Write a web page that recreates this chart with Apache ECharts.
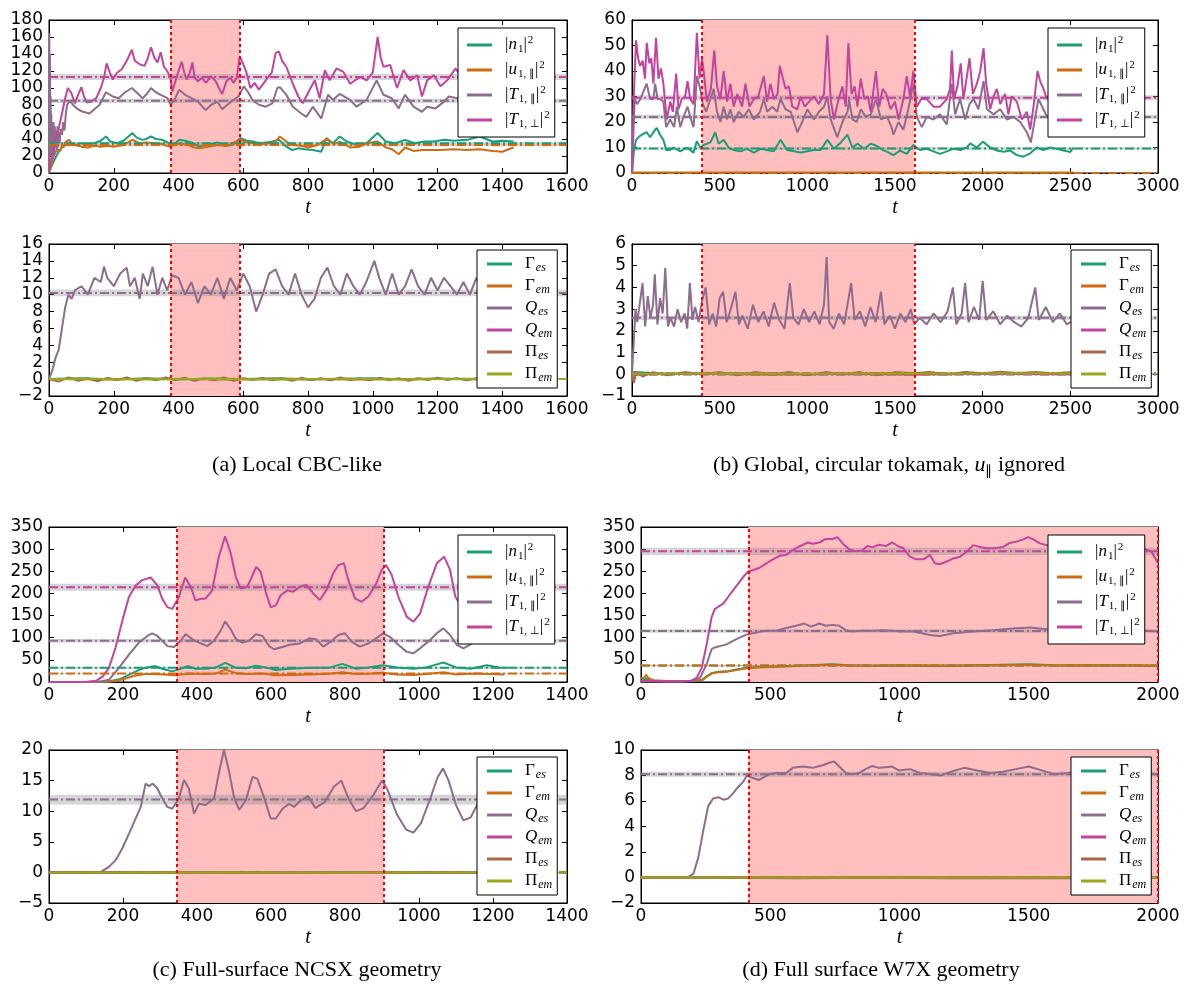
<!DOCTYPE html>
<html><head><meta charset="utf-8">
<script src="https://cdn.jsdelivr.net/npm/echarts@6/dist/echarts.min.js"></script>
<style>html,body{margin:0;padding:0;background:#fff}#c{width:1189px;height:989px}</style>
</head><body><div id="c"></div><script>
// ---------------- DATA ----------------
// averaging windows [start, end]
const winA = [375, 590];
const winB = [400, 1610];
const winC = [345, 905];
const winD = [415, 2000];

// ---- (a) Local CBC-like, top: |n1|^2, |u1,par|^2, |T1,par|^2, |T1,perp|^2
const a_n1 = [[0,0],[5,5],[10,10],[20,18],[30,25],[40,30],[50,33],[60,34],[80,33],[100,35],[120,33],[140,35],[160,38],[176,43],[190,37],[210,35],[230,38],[258,47],[270,42],[289,39],[300,40],[315,43],[330,40],[350,39],[371,35],[385,33],[402,39],[420,38],[440,36],[464,31],[480,33],[500,34],[520,36],[540,32],[566,33],[592,41],[610,38],[630,37],[650,35],[670,36],[690,37],[710,39],[730,32],[751,27],[770,29],[790,28],[815,27],[841,25],[857,41],[877,35],[898,43],[920,37],[950,33],[981,35],[1015,47],[1040,37],[1070,35],[1100,39],[1130,35],[1160,37],[1190,37],[1220,39],[1250,38],[1292,39],[1330,43],[1370,37],[1400,38],[1435,37]];
const a_u = [[0,0],[5,8],[10,14],[15,20],[20,24],[25,28],[30,30],[35,26],[40,33],[45,30],[50,36],[55,34],[62,39],[70,35],[80,33],[100,31],[120,30],[140,32],[160,31],[180,32],[200,31],[230,33],[258,39],[280,35],[300,36],[330,35],[350,34],[371,31],[385,33],[402,35],[430,33],[450,30],[464,29],[490,31],[520,33],[550,32],[566,35],[592,39],[610,36],[640,35],[670,34],[700,37],[713,43],[733,37],[753,33],[780,32],[800,30],[830,33],[857,40],[880,34],[898,37],[930,30],[960,31],[981,35],[1015,37],[1040,30],[1060,28],[1080,22],[1100,30],[1126,26],[1152,27],[1180,27],[1210,27],[1250,28],[1290,27],[1330,28],[1370,26],[1400,25],[1420,28],[1435,30]];
const a_Tpar = [[0,0],[1,165],[2,60],[3,140],[4,40],[5,90],[6,20],[7,70],[8,30],[9,60],[10,15],[11,55],[12,25],[14,60],[16,20],[18,55],[20,30],[22,50],[24,25],[26,55],[28,30],[30,48],[33,35],[36,52],[40,45],[44,60],[48,50],[52,70],[56,80],[64,85],[75,80],[89,75],[105,72],[125,70],[140,75],[156,80],[176,95],[197,90],[215,88],[235,95],[256,100],[270,95],[289,88],[300,92],[315,100],[330,95],[345,92],[366,88],[376,80],[390,88],[402,98],[420,92],[440,88],[460,84],[484,74],[500,80],[520,84],[535,75],[550,80],[566,85],[585,90],[602,102],[615,95],[630,85],[650,80],[670,78],[690,82],[705,100],[713,101],[733,92],[753,78],[779,70],[795,66],[815,78],[841,64],[862,92],[877,86],[898,93],[930,86],[950,78],[981,86],[1012,109],[1033,92],[1059,88],[1080,76],[1100,92],[1126,78],[1152,72],[1168,78],[1194,76],[1220,84],[1235,90],[1261,88],[1290,92],[1320,86],[1350,90],[1380,84],[1410,88],[1435,86]];
const a_Tperp = [[0,3],[5,15],[10,22],[15,30],[20,38],[30,52],[40,70],[50,88],[58,100],[68,95],[80,82],[90,92],[100,101],[108,90],[117,83],[130,84],[146,88],[160,100],[170,112],[178,129],[188,118],[197,110],[210,118],[225,122],[240,132],[256,145],[265,132],[280,128],[295,126],[305,135],[315,148],[325,136],[335,130],[345,142],[355,125],[365,120],[375,112],[381,96],[392,110],[402,122],[410,131],[418,118],[425,110],[435,118],[443,130],[450,112],[460,108],[472,112],[485,106],[500,114],[515,108],[525,100],[535,93],[548,108],[560,112],[570,106],[580,112],[589,137],[598,130],[610,118],[622,100],[635,106],[648,98],[660,104],[675,112],[688,118],[700,141],[710,143],[720,132],[733,125],[753,105],[770,90],[784,82],[805,98],[821,109],[836,88],[852,121],[867,109],[888,123],[909,119],[930,105],[961,113],[981,109],[1000,118],[1015,160],[1025,135],[1033,125],[1054,127],[1075,100],[1095,121],[1116,109],[1137,115],[1152,90],[1168,109],[1189,115],[1209,102],[1230,109],[1256,123],[1275,112],[1300,118],[1325,110],[1350,120],[1375,114],[1400,118],[1420,112],[1435,116]];
const meanA1 = [35, 33, 85, 113];
const errA1 = [1.5, 1.5, 2.5, 3.5];

// ---- (a) bottom: Gamma_es, Gamma_em, Q_es, Q_em, Pi_es, Pi_em
const a_Ges = [[0,0],[100,0.1],[200,-0.05],[300,0.1],[400,-0.05],[500,0.08],[600,0],[700,0.1],[800,-0.05],[900,0.05],[1000,0.1],[1100,-0.05],[1200,0.08],[1300,0],[1430,0.05]];
const a_Gem = [[0,0],[150,-0.05],[350,0.05],[550,-0.05],[750,0.05],[950,-0.05],[1150,0.05],[1350,-0.05],[1430,0]];
const a_Qes = [[0,0],[10,1],[20,2.5],[30,3.5],[40,6],[50,8.5],[60,10],[70,9.5],[80,10.5],[100,11],[120,10],[140,12],[160,11.5],[170,13.3],[180,12],[200,11],[220,12.5],[240,13.2],[250,11],[265,12],[280,9.5],[290,12.5],[305,11],[320,13.3],[335,10],[350,12],[365,10.5],[380,12.3],[400,12],[420,10],[440,11.5],[460,9],[480,11],[500,10],[520,12],[540,9.5],[560,12],[580,10.5],[600,12.5],[620,11],[640,8],[660,10],[680,12.5],[700,13],[720,11],[740,10],[760,12.5],[780,10],[800,8.5],[820,9.5],[840,12],[860,13.2],[880,11],[900,10],[920,12.5],[940,11],[960,10],[980,11.5],[1005,14],[1020,12],[1040,10],[1060,12.5],[1080,10],[1100,11],[1120,13],[1140,11],[1160,10],[1180,12],[1200,10.5],[1220,12],[1240,11],[1260,10],[1280,11.5],[1300,10],[1320,12],[1340,10.5],[1360,11],[1380,9.5],[1400,11],[1430,10]];
const a_Qem = [[0,0],[400,0.02],[800,-0.02],[1200,0.02],[1430,0]];
const a_Pes = [[0,0],[30,-0.3],[60,0.2],[90,-0.2],[120,0.1],[150,-0.25],[180,0.15],[210,-0.1],[240,0.2],[270,-0.2],[300,0.1],[330,-0.15],[360,0.2],[390,-0.1],[420,0.15],[450,-0.2],[480,0.1],[510,-0.15],[540,0.2],[570,-0.2],[600,0.1],[630,-0.1],[660,0.15],[690,-0.15],[720,0.1],[750,-0.2],[780,0.15],[810,-0.1],[840,0.1],[870,-0.15],[900,0.2],[930,-0.1],[960,0.1],[990,-0.15],[1020,0.15],[1050,-0.1],[1080,0.1],[1110,-0.2],[1140,0.1],[1170,-0.1],[1200,0.15],[1230,-0.1],[1260,0.1],[1290,-0.15],[1320,0.1],[1350,-0.1],[1380,0.15],[1410,-0.1],[1430,0]];
const a_Pem = [[0,0],[100,0.05],[300,-0.05],[500,0.05],[700,-0.05],[900,0.05],[1100,-0.05],[1300,0.05],[1430,0]];
const meanA2 = [0, 0, 10.2, 0, 0, 0];
const errA2 = [0.05, 0.05, 0.4, 0.05, 0.05, 0.05];

// ---- (b) Global circular tokamak, top
const b_n1 = [[0,0],[10,8],[23,13],[36,14],[55,15],[84,16],[103,14],[122,16],[141,17.7],[160,15],[179,13],[195,9],[218,9],[237,10],[275,8.5],[313,10],[351,8],[370,12.5],[389,10],[408,11],[447,12],[475,16],[494,11.5],[523,13],[551,10],[580,9],[618,8.5],[656,9.5],[695,8],[733,9.5],[771,9],[809,8.5],[847,13],[885,9],[924,8.5],[962,8],[1000,8.5],[1038,9],[1076,9],[1114,13],[1152,9.5],[1191,12],[1229,15],[1257,10],[1286,11.5],[1324,9.5],[1362,11.5],[1400,10.5],[1430,9],[1453,8.4],[1491,7],[1529,8.8],[1567,7.5],[1605,11],[1643,9],[1681,9.5],[1719,8.5],[1757,7.5],[1795,8.5],[1833,9.5],[1872,9],[1910,10],[1929,11.6],[1967,10],[2001,12.3],[2043,10],[2081,8.8],[2119,8.3],[2157,8.8],[2195,7],[2233,6.4],[2271,7.7],[2309,10],[2347,9],[2385,10],[2423,9.5],[2461,8.8],[2499,8.2],[2518,10]];
const b_u = [[0,0.15],[1260,0.15],[2520,0.15]];
const b_Tpar = [[0,0],[15,29],[29,27],[48,29],[71,33],[84,35],[103,29],[122,29],[132,35],[146,29],[160,29],[179,28],[195,18],[218,21],[240,18],[256,26],[275,18],[294,22],[317,26],[336,21],[351,18],[370,38],[389,33],[404,27],[423,24],[447,29],[466,33],[485,24],[504,20],[523,26],[542,21],[561,25],[580,20],[609,24],[637,22],[666,25],[695,21],[730,24],[752,29],[771,24],[800,26],[828,24],[847,29],[876,25],[905,24],[943,16],[971,20],[1000,25],[1038,21],[1066,24],[1095,26],[1114,30],[1133,21],[1171,14],[1200,20],[1229,24],[1238,29],[1257,21],[1282,20],[1305,25],[1334,22],[1362,23],[1391,29],[1420,21],[1455,22],[1480,18],[1491,15],[1520,20],[1548,17],[1576,25],[1605,35],[1624,22],[1653,18],[1681,22],[1719,21],[1757,23],[1795,19],[1824,35],[1843,23],[1871,29],[1900,21],[1925,27],[1948,29],[1976,25],[2005,36],[2024,25],[2062,23],[2100,25],[2138,21],[2176,22],[2214,20],[2252,16],[2275,12],[2300,22],[2318,29],[2347,25],[2366,22],[2400,24],[2440,21],[2480,23],[2520,22]];
const b_Tperp = [[0,0],[10,30],[23,52],[35,45],[46,42],[61,44],[74,37],[84,51],[99,43],[110,45],[122,35],[137,53],[151,37],[165,41],[179,35],[198,21],[218,28],[233,24],[252,39],[265,25],[284,29],[303,30],[317,36],[332,29],[351,27],[370,55],[385,37],[399,45],[412,38],[427,28],[450,33],[469,48],[485,34],[504,29],[523,40],[542,28],[561,35],[580,26],[600,31],[628,26],[647,35],[670,26],[695,29],[720,30],[752,38],[770,28],[790,35],[810,29],[830,31],[843,42],[857,38],[876,33],[895,34],[914,26],[943,25],[962,30],[985,26],[1010,28],[1038,30],[1066,27],[1095,31],[1114,54],[1133,29],[1152,21],[1175,28],[1200,34],[1219,26],[1234,51],[1252,31],[1270,34],[1286,26],[1305,37],[1325,29],[1345,30],[1362,24],[1391,40],[1410,26],[1430,33],[1450,31],[1475,25],[1500,28],[1520,21],[1548,29],[1567,38],[1586,30],[1605,40],[1624,26],[1650,29],[1681,29],[1720,26],[1757,26],[1795,29],[1814,33],[1824,48],[1837,29],[1856,34],[1875,43],[1890,29],[1906,36],[1925,45],[1944,31],[1967,35],[1986,40],[2005,49],[2020,35],[2043,25],[2062,30],[2081,33],[2100,27],[2128,31],[2147,23],[2166,30],[2195,28],[2223,21],[2252,24],[2271,17],[2290,26],[2313,40],[2328,36],[2347,33],[2366,29],[2390,32],[2420,28],[2450,30],[2480,27],[2520,30]];
const meanB1 = [9.6, 0, 22, 29.5];
const errB1 = [0.5, 0.1, 0.8, 1];

// ---- (b) bottom
const b_Ges = [[0,0],[10,0.1],[200,0.02],[600,0.05],[1000,0],[1400,0.05],[1800,0],[2200,0.05],[2520,0.02]];
const b_Gem = [[0,0],[8,-0.3],[20,0],[400,0.02],[800,-0.02],[1200,0.02],[1600,-0.02],[2000,0.02],[2520,0]];
const b_Qes = [[0,0],[10,1.5],[20,3],[30,2.4],[45,3.3],[60,4.2],[75,2.2],[90,3.6],[105,2.6],[120,3.2],[130,4.6],[145,2.3],[160,3.5],[175,2.8],[190,4.9],[205,2.2],[220,2.6],[240,2.2],[260,3],[280,2.4],[300,2.8],[315,2.1],[330,4.2],[345,2.5],[360,3.1],[380,2.4],[400,3.4],[420,4],[440,2.3],[460,2.8],[480,2.2],[500,3.5],[520,3.8],[540,2.4],[560,2.9],[590,3.8],[610,2.3],[630,2.7],[660,2.1],[690,3.2],[720,2.4],[750,2.9],[780,2.2],[810,3.3],[840,2.5],[870,2.1],[900,4.2],[920,2.6],[950,2.3],[980,3],[1010,2.4],[1040,2.9],[1070,2.3],[1095,3.2],[1110,5.4],[1125,2.4],[1150,2.1],[1180,2.8],[1210,2.3],[1250,4.2],[1270,2.5],[1300,2.9],[1330,2.2],[1360,3.1],[1390,2.4],[1420,3.8],[1440,2.3],[1470,2.7],[1500,2.1],[1530,2.8],[1560,2.4],[1590,3],[1610,2.3],[1640,2.6],[1680,2.3],[1720,2.8],[1760,2.4],[1800,2.9],[1830,4],[1850,2.3],[1880,2.8],[1900,4.2],[1920,2.4],[1950,3.1],[1980,2.5],[2000,4.3],[2020,2.5],[2060,2.9],[2100,2.3],[2140,2.7],[2180,2.4],[2220,2.2],[2260,2.6],[2300,4],[2320,2.5],[2360,3.1],[2400,2.4],[2440,2.8],[2480,2.3],[2520,2.5]];
const b_Qem = [[0,0],[600,0.02],[1200,0],[1800,0.02],[2520,0]];
const b_Pes = [[0,0],[10,-0.4],[25,0.1],[60,-0.1],[120,0.1],[200,-0.05],[300,0.1],[400,0],[500,0.1],[600,-0.05],[700,0.1],[800,0],[900,0.1],[1000,-0.05],[1100,0.1],[1200,0],[1300,0.1],[1400,-0.05],[1500,0.1],[1600,0.05],[1700,0.1],[1800,0],[1900,0.1],[2000,0.05],[2100,0.12],[2200,0.05],[2300,0.1],[2400,0.05],[2520,0.1]];
const b_Pem = [[0,0],[200,0.02],[600,0.05],[1000,0.03],[1400,0.06],[1800,0.04],[2200,0.07],[2520,0.05]];
const meanB2 = [0, 0, 2.6, 0, 0.05, 0.03];
const errB2 = [0.03, 0.03, 0.1, 0.03, 0.03, 0.03];

// ---- (c) NCSX, top
const c_n1 = [[0,0],[100,0],[160,1],[190,6],[220,18],[245,28],[261,32],[288,36],[306,30],[333,24],[356,30],[374,36],[396,30],[423,30],[450,33],[477,43],[505,32],[532,31],[559,37],[586,33],[613,27],[650,30],[680,31],[720,32],[760,33],[793,41],[830,30],[863,33],[903,38],[940,33],[985,30],[1020,33],[1066,44],[1100,33],[1140,30],[1183,38],[1215,33],[1240,32]];
const c_u = [[0,0],[100,0],[170,1],[200,6],[230,14],[260,18],[279,18],[310,17],[340,15],[380,19],[420,18],[450,19],[477,28],[505,20],[540,18],[580,19],[610,15],[650,16],[700,17],[750,18],[793,22],[830,18],[870,19],[903,21],[940,17],[985,16],[1020,18],[1066,22],[1100,17],[1150,19],[1190,18],[1230,17]];
const c_Tpar = [[0,0],[100,0],[140,1],[162,5],[189,32],[216,62],[243,89],[266,104],[279,110],[293,104],[306,93],[320,81],[338,79],[356,93],[369,108],[387,97],[405,89],[428,81],[446,93],[464,116],[476,137],[491,119],[505,97],[523,89],[541,93],[559,108],[577,104],[595,81],[608,74],[626,78],[651,84],[678,87],[705,99],[723,96],[741,80],[760,90],[782,106],[800,110],[818,91],[840,80],[863,87],[885,99],[903,110],[921,102],[944,84],[967,68],[985,65],[1003,76],[1030,95],[1048,110],[1066,121],[1084,106],[1102,84],[1120,76],[1150,90],[1180,108],[1210,100],[1240,92]];
const c_Tperp = [[0,0],[50,0],[100,0],[126,2],[145,12],[162,32],[180,78],[198,138],[216,192],[234,218],[252,230],[275,236],[293,218],[306,188],[320,169],[333,165],[351,192],[368,236],[383,215],[396,184],[410,188],[423,188],[441,207],[459,283],[476,329],[491,291],[505,237],[518,211],[536,215],[550,241],[560,260],[572,249],[586,203],[599,169],[613,173],[626,196],[644,207],[660,204],[678,215],[696,219],[714,200],[732,185],[750,208],[768,245],[782,264],[797,268],[809,230],[827,189],[845,181],[863,193],[885,223],[899,253],[911,264],[926,242],[944,193],[967,147],[985,136],[1003,155],[1025,215],[1048,268],[1068,283],[1084,253],[1098,193],[1115,170],[1135,175],[1160,215],[1185,265],[1205,280],[1225,250],[1240,230]];
const meanC1 = [32, 19, 93, 214];
const errC1 = [2.5, 1.5, 4, 8];

// ---- (c) bottom
const c_Ges = [[0,0],[300,0.02],[600,0],[900,0.02],[1240,0]];
const c_Gem = [[0,0],[400,0],[800,0],[1240,0]];
const c_Qes = [[0,0],[100,0],[140,0.1],[162,0.9],[180,2],[198,3.9],[216,6.3],[234,8.8],[248,10.7],[261,14.5],[270,14.1],[280,14.5],[293,13.7],[306,12.1],[320,10.7],[333,10.4],[351,12.1],[365,15.1],[378,13.7],[392,9.6],[405,11.2],[423,11],[446,12.1],[459,16.2],[473,20],[486,16.7],[500,12.3],[514,10.2],[532,11.8],[550,15.6],[563,15.3],[581,12.3],[599,8.8],[613,8.8],[631,10.4],[649,11.2],[662,10.7],[676,11.5],[700,12.5],[720,10.5],[745,11.5],[770,14],[790,15],[810,12],[830,10],[850,10.5],[875,12.5],[900,15],[915,13.5],[940,9.5],[965,7],[985,6.5],[1005,8],[1030,12],[1050,15.5],[1065,17],[1080,15],[1100,11],[1120,8.5],[1140,9],[1165,12],[1190,15],[1210,14],[1230,12],[1240,11.5]];
const c_Qem = [[0,0],[600,0],[1240,0]];
const c_Pes = [[0,0],[200,0],[400,0.05],[600,-0.1],[800,0.05],[1000,-0.05],[1240,0]];
const c_Pem = [[0,0],[300,0],[600,0.02],[900,0],[1240,0.02]];
const meanC2 = [0, 0, 11.9, 0, 0, 0];
const errC2 = [0.05, 0.05, 0.8, 0.05, 0.05, 0.05];

// ---- (d) W7X, top
const d_n1 = [[0,3],[20,8],[40,3],[80,2],[150,1],[230,2],[254,13],[273,20],[299,23],[331,24],[369,28],[408,32],[459,34],[562,36],[650,38],[741,40],[800,38],[900,37],[1000,38],[1100,36],[1200,37],[1300,38],[1400,39],[1500,40],[1600,38],[1700,37],[1800,38],[1900,37],[2000,36]];
const d_u = [[0,10],[10,8],[20,16],[30,8],[50,4],[100,2],[200,2],[240,5],[254,12],[273,19],[299,22],[331,23],[369,27],[408,31],[459,33],[562,35],[650,37],[741,39],[800,37],[900,36],[1000,37],[1100,38],[1200,36],[1300,37],[1400,38],[1500,39],[1600,37],[1700,38],[1800,37],[1900,38],[2000,37]];
const d_Tpar = [[0,1],[100,1],[200,2],[228,9],[254,40],[273,74],[286,78],[305,81],[331,85],[356,93],[382,100],[408,107],[446,112],[485,116],[523,116],[562,122],[600,127],[632,132],[658,125],[690,132],[715,127],[741,129],[767,127],[792,117],[818,114],[856,116],[895,116],[933,117],[972,116],[1000,114],[1053,114],[1118,106],[1156,104],[1208,110],[1285,114],[1362,117],[1440,121],[1504,123],[1569,119],[1650,117],[1750,116],[1850,115],[1950,116],[2000,114]];
const d_Tperp = [[0,2],[50,2],[100,1],[150,1],[190,2],[215,9],[235,32],[254,85],[273,146],[286,165],[299,170],[318,177],[337,192],[356,207],[376,222],[395,237],[414,249],[440,254],[459,258],[485,268],[510,277],[536,285],[562,287],[587,298],[613,306],[645,315],[664,312],[690,315],[715,323],[741,323],[760,327],[780,313],[805,300],[831,295],[856,297],[876,307],[895,304],[920,310],[946,307],[972,315],[997,306],[1015,302],[1040,283],[1066,277],[1092,277],[1118,287],[1137,268],[1156,266],[1182,272],[1208,279],[1234,283],[1260,294],[1285,309],[1311,305],[1337,302],[1369,302],[1401,305],[1427,314],[1453,317],[1479,322],[1498,327],[1518,322],[1543,313],[1569,309],[1600,305],[1650,312],[1700,318],[1750,322],[1800,316],[1850,310],[1900,305],[1950,300],[1975,294],[2000,268]];
const meanD1 = [37, 37, 115, 295];
const errD1 = [1.5, 1.5, 4, 8];

// ---- (d) bottom
const d_Ges = [[0,0],[400,0.02],[800,-0.02],[1200,0.02],[1600,-0.02],[2000,0]];
const d_Gem = [[0,0],[500,0],[1000,0],[1500,0],[2000,0]];
const d_Qes = [[0,0],[100,0],[179,0],[203,0.3],[222,1.6],[241,3.7],[260,5.6],[279,6.2],[299,6.3],[318,6.1],[337,6.2],[356,6.6],[376,7.1],[395,7.5],[410,8.0],[433,7.8],[456,7.65],[478,7.9],[497,8.1],[523,8.2],[562,8.2],[587,8.6],[626,8.7],[664,8.6],[703,8.8],[728,9.0],[747,9.1],[767,8.7],[792,8.2],[818,8.1],[844,8.2],[869,8.5],[895,8.75],[920,8.6],[946,8.65],[972,8.7],[997,8.4],[1040,8.5],[1080,8.2],[1120,8.1],[1160,8.0],[1200,8.3],[1250,8.6],[1300,8.4],[1350,8.2],[1400,8.3],[1450,8.5],[1500,8.7],[1550,8.4],[1600,8.1],[1650,8.2],[1700,8.4],[1750,8.1],[1800,8.3],[1850,8.2],[1900,8.0],[1950,8.2],[2000,8.1]];
const d_Qem = [[0,0],[1000,0],[2000,0]];
const d_Pes = [[0,0],[300,-0.02],[600,-0.05],[900,-0.02],[1200,-0.06],[1500,-0.03],[1800,-0.05],[2000,-0.03]];
const d_Pem = [[0,0],[500,0.02],[1000,0],[1500,0.02],[2000,0]];
const meanD2 = [0, 0, 8.1, 0, 0, 0];
const errD2 = [0.05, 0.05, 0.2, 0.05, 0.05, 0.05];

// captions
const captions = ['(a) Local CBC-like', '(b) Global, circular tokamak, ', '(c) Full-surface NCSX geometry', '(d) Full surface W7X geometry'];

// ---------------- CHART ----------------
const C = {n1:'#1b9e77',u:'#cf6b10',Tpar:'#8d6d8e',Tperp:'#c2449e',Ges:'#1b9e77',Gem:'#cf6b10',Qes:'#8d6d8e',Qem:'#c2449e',Pes:'#a8674b',Pem:'#9aa61c'};
const TOPK = ['n1','u','Tpar','Tperp'];
const BOTK = ['Ges','Gem','Qes','Qem','Pes','Pem'];
const LBL = {
  n1:'{g| }{r||}{i|n}{sb|1}{r||}{sp|2}',
  u:'{g| }{r||}{i|u}{sb|1, ∥}{r||}{sp|2}',
  Tpar:'{g| }{r||}{i|T}{sb|1, ∥}{r||}{sp|2}',
  Tperp:'{g| }{r||}{i|T}{sb|1, ⊥}{r||}{sp|2}',
  Ges:'{g| }{r|Γ}{sbi|es}', Gem:'{g| }{r|Γ}{sbi|em}',
  Qes:'{g| }{i|Q}{sbi|es}', Qem:'{g| }{i|Q}{sbi|em}',
  Pes:'{g| }{r|Π}{sbi|es}', Pem:'{g| }{r|Π}{sbi|em}'
};
const SERIF = 'Liberation Serif';
const RICH = {
  g:{width:8, fontSize:10},
  r:{fontFamily:SERIF, fontSize:17, lineHeight:20, color:'#000'},
  i:{fontFamily:SERIF, fontSize:17, fontStyle:'italic', lineHeight:20, color:'#000'},
  sb:{fontFamily:SERIF, fontSize:11, lineHeight:11, padding:[9,0,0,1], color:'#000'},
  sbi:{fontFamily:SERIF, fontSize:12, fontStyle:'italic', lineHeight:12, padding:[8,0,0,1], color:'#000'},
  sp:{fontFamily:SERIF, fontSize:11, lineHeight:11, padding:[0,0,9,1], color:'#000'}
};

const panels = [
 {g:[49,20,518,153], x:[0,1600,200], y:[0,180,20], win:winA, keys:TOPK, lines:[a_n1,a_u,a_Tpar,a_Tperp], mean:meanA1, err:errA1, leg:[458,28]},
 {g:[49,244,518,152], x:[0,1600,200], y:[-2,16,2], win:winA, keys:BOTK, lines:[a_Ges,a_Gem,a_Qes,a_Qem,a_Pes,a_Pem], mean:meanA2, err:errA2, leg:[477,250]},
 {g:[632,20,526,153], x:[0,3000,500], y:[0,60,10], win:winB, keys:TOPK, lines:[b_n1,b_u,b_Tpar,b_Tperp], mean:meanB1, err:errB1, leg:[1048,28]},
 {g:[632,244,526,152], x:[0,3000,500], y:[-1,6,1], win:winB, keys:BOTK, lines:[b_Ges,b_Gem,b_Qes,b_Qem,b_Pes,b_Pem], mean:meanB2, err:errB2, leg:[1071,250]},
 {g:[49,527,518,155], x:[0,1400,200], y:[0,350,50], win:winC, keys:TOPK, lines:[c_n1,c_u,c_Tpar,c_Tperp], mean:meanC1, err:errC1, leg:[458,535]},
 {g:[49,750,518,153], x:[0,1400,200], y:[-5,20,5], win:winC, keys:BOTK, lines:[c_Ges,c_Gem,c_Qes,c_Qem,c_Pes,c_Pem], mean:meanC2, err:errC2, leg:[477,757]},
 {g:[641,527,517,155], x:[0,2000,500], y:[0,350,50], win:winD, keys:TOPK, lines:[d_n1,d_u,d_Tpar,d_Tperp], mean:meanD1, err:errD1, leg:[1048,535]},
 {g:[641,750,517,153], x:[0,2000,500], y:[-2,10,2], win:winD, keys:BOTK, lines:[d_Ges,d_Gem,d_Qes,d_Qem,d_Pes,d_Pem], mean:meanD2, err:errD2, leg:[1071,757]}
];

const fmt = v => String(v).replace('-', '\u2212');
const grids=[], xAxes=[], yAxes=[], series=[], legends=[];
const tick = {show:true, inside:true, length:5, lineStyle:{color:'#000', width:1}};
const line = {show:true, onZero:false, lineStyle:{color:'#000', width:1}};
const lab = {show:true, color:'#000', fontSize:17, fontFamily:'DejaVu Sans', formatter:fmt, showMinLabel:true, showMaxLabel:true, hideOverlap:false};

panels.forEach((p,i)=>{
  grids.push({left:p.g[0], top:p.g[1], width:p.g[2], height:p.g[3], show:true, borderColor:'#000', borderWidth:1, backgroundColor:'transparent', containLabel:false, outerBoundsMode:'none'});
  xAxes.push({type:'value', gridIndex:i, position:'bottom', min:p.x[0], max:p.x[1], interval:p.x[2],
    name:'t', nameLocation:'middle', nameGap:25, nameTextStyle:{fontFamily:SERIF, fontStyle:'italic', fontSize:20, color:'#000'},
    axisLine:line, axisTick:tick, axisLabel:Object.assign({margin:5}, lab), splitLine:{show:false}});
  xAxes.push({type:'value', gridIndex:i, position:'top', min:p.x[0], max:p.x[1], interval:p.x[2],
    axisLine:line, axisTick:tick, axisLabel:{show:false}, splitLine:{show:false}});
  yAxes.push({type:'value', gridIndex:i, position:'left', min:p.y[0], max:p.y[1], interval:p.y[2],
    axisLine:line, axisTick:tick, axisLabel:Object.assign({margin:6}, lab), splitLine:{show:false}});
  yAxes.push({type:'value', gridIndex:i, position:'right', min:p.y[0], max:p.y[1], interval:p.y[2],
    axisLine:line, axisTick:tick, axisLabel:{show:false}, splitLine:{show:false}});
  const ax = {xAxisIndex:2*i, yAxisIndex:2*i};
  // averaging window
  series.push(Object.assign({type:'line', data:[], z:1, silent:true,
    markArea:{silent:true, itemStyle:{color:'#ffbfbf'}, data:[[{xAxis:p.win[0]},{xAxis:p.win[1]}]]}}, ax));
  // data lines
  p.keys.forEach((k,j)=>{
    series.push(Object.assign({name:k, type:'line', data:p.lines[j], symbol:'none', showSymbol:false, z:3, silent:true,
      lineStyle:{color:C[k], width:2}, itemStyle:{color:C[k]}}, ax));
  });
  // means with error bands
  p.keys.forEach((k,j)=>{
    series.push(Object.assign({name:'mean '+k, type:'line', data:[[p.x[0],p.mean[j]],[p.x[1],p.mean[j]]], symbol:'none', showSymbol:false, z:4, silent:true,
      lineStyle:{color:C[k], width:2, type:[9,3,2,3]},
      markArea:{silent:true, itemStyle:{color:'rgba(128,128,128,0.33)'}, data:[[{yAxis:p.mean[j]-p.err[j]},{yAxis:p.mean[j]+p.err[j]}]]}}, ax));
  });
  // window edges
  series.push(Object.assign({type:'line', data:[], z:6, silent:true,
    markLine:{silent:true, symbol:['none','none'], label:{show:false}, lineStyle:{color:'#ff0000', type:[3,3], width:2},
      data:[{xAxis:p.win[0]},{xAxis:p.win[1]}]}}, ax));
  const big = p.keys.length === 4;
  legends.push({orient:'vertical', left:p.leg[0], top:p.leg[1], data:p.keys, icon:'rect', itemWidth:25, itemHeight:3,
    itemGap: big?5:2, padding: big?[7,5,7,9]:[4,5,4,10], backgroundColor:'#fff', borderColor:'#000', borderWidth:1, borderRadius:0,
    selectedMode:false, formatter:n=>LBL[n], textStyle:{color:'#000', fontFamily:SERIF, fontSize:17, rich:RICH}, z:20});
});

const capStyle = {fontFamily:SERIF, fontSize:22, fill:'#000'};
const graphic = [
  {type:'text', x:297, y:465, style:Object.assign({text:captions[0], align:'center', verticalAlign:'middle'}, capStyle)},
  {type:'text', x:889, y:465, style:{text:'{r|'+captions[1]+'}{i|u}{s|∥}{r| ignored}', align:'center', verticalAlign:'middle',
     rich:{r:{fontFamily:SERIF, fontSize:22, fill:'#000', lineHeight:27}, i:{fontFamily:SERIF, fontSize:22, fontStyle:'italic', fill:'#000', lineHeight:27}, s:{fontFamily:SERIF, fontSize:14, fill:'#000', lineHeight:14, padding:[13,0,0,0]}}}},
  {type:'text', x:297, y:970, style:Object.assign({text:captions[2], align:'center', verticalAlign:'middle'}, capStyle)},
  {type:'text', x:881, y:970, style:Object.assign({text:captions[3], align:'center', verticalAlign:'middle'}, capStyle)}
];

const chart = echarts.init(document.getElementById('c'), null, {renderer:'canvas'});
chart.setOption({animation:false, backgroundColor:'#fff', grid:grids, xAxis:xAxes, yAxis:yAxes, series:series, legend:legends, graphic:graphic, tooltip:{show:false}});
</script></body></html>
